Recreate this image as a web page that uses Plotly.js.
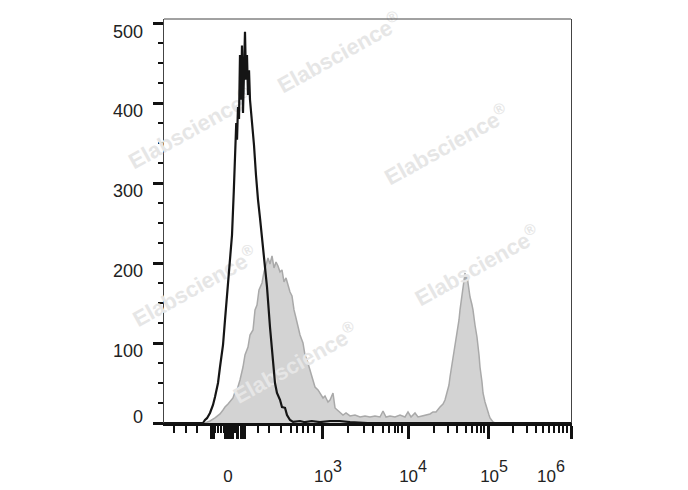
<!DOCTYPE html>
<html><head><meta charset="utf-8">
<script src="https://cdn.plot.ly/plotly-3.0.1.min.js"></script>
<style>html,body{margin:0;padding:0;background:#fff}#chart{width:688px;height:490px}</style>
</head><body><div id="chart"></div>
<script>
// x values are display channels (0-1000) of a biexponential axis; y values are cell counts
const stainedX = [100.7,113.0,125.3,137.6,145.0,149.9,157.3,162.2,169.5,174.4,179.4,186.7,194.1,199.0,206.4,211.3,218.7,223.6,228.5,233.4,240.8,245.7,250.6,255.5,260.4,265.4,270.3,275.2,280.1,285.0,289.9,294.8,299.8,304.7,309.6,314.5,319.4,324.3,329.2,334.2,341.5,346.4,351.4,358.7,366.1,371.0,378.4,383.3,390.7,395.6,402.9,407.9,415.2,420.2,425.1,432.4,439.8,447.2,457.0,469.3,481.6,493.9,506.1,518.4,530.7,538.1,545.5,555.3,567.6,579.9,592.1,599.5,606.9,616.7,624.1,633.9,643.7,653.6,660.9,668.3,678.1,685.5,690.4,695.3,700.2,702.7,707.6,710.1,715.0,719.9,724.8,727.3,732.2,734.7,737.1,739.6,742.1,744.5,747.0,749.4,751.9,756.8,759.2,764.1,769.0,774.0,776.4,781.3,783.8,788.7,793.6,798.5,801.0,808.4,813.3];
const stainedY = [0,2.5,6.3,11.3,16.3,20,23.8,26.3,31.3,38.8,41.3,53.8,70,85,95,110,116.3,141.3,147.5,166.3,175,188.8,197.5,206.3,198.8,208.8,193.8,201.3,196.3,188.8,191.3,176.3,181.3,172.5,163.8,158.8,141.3,131.3,120,110,100,85,78.8,66.3,53.8,45,41.3,37.5,31.3,33.8,26.3,28.8,37.5,18.8,16.3,13.8,10,12.5,8.8,10,7.5,8.8,7.5,8.8,7.5,15,7.5,8.8,7.5,10,7.5,13.8,7.5,12.5,7.5,8.8,10,11.3,13.8,13.8,20,23.8,28.8,37.5,47.5,57.5,72.5,82.5,97.5,112.5,128.8,141.3,160,170,178.8,187.5,178.8,185,175,166.3,157.5,147.5,141.3,122.5,107.5,85,70,51.3,37.5,26.3,16.3,10,6.3,1.3,0];

const controlX = [0,95.8,100.7,105.6,113.0,120.4,125.3,132.7,137.6,145.0,149.9,154.8,159.7,167.1,171.5,174.4,177.5,179.4,181.8,184.3,186.7,189.2,191.6,194.1,196.6,199.0,201.5,203.9,206.4,208.9,211.3,216.2,221.1,226.0,228.5,231.0,235.9,239.5,243.2,248.2,253.1,260.4,265.4,267.8,272.7,277.6,285.0,289.9,297.3,302.2,309.6,317.0,334.0,346.0,363.0,383.0,408.0,432.0,457.0,500.0,1000];
const controlY = [0,0,3.8,6,12.5,22.5,32.5,50,70,97.5,129,160,197.5,235,290,340,375,354,395,380,460,404,472,387.5,466,489,429,460,410,441,404,379,347.5,310,287.5,279,256,237,212.5,191,170,120,91,70,50,37.5,29,20,19,10,3.8,1.3,2.5,1,2.5,1,2.5,2.5,1,0,0];

// axis ticks (display channels) and labels
const decadeTicks = [388.2, 599.5, 798.5, 1000];
const zeroTicksLong = [115.5, 120.4, 152.3, 157.2, 162.2, 167.1, 181.8, 189.2, 196.6];
const zeroTicksShort = [125.3, 132.7, 140.0, 147.4, 172.0, 176.9];
const midTicks = [312.0, 538.1, 742.0, 931.2];
const minorTicks = [24.6,54.1,81.1,231.0,258.0,287.5,326.8,341.5,353.8,368.6,452.1,491.4,513.5,552.8,567.6,575.0,584.8,663.4,697.8,719.9,756.8,769.1,778.9,786.2,857.5,891.9,914.0,946.0,958.2,970.5,980.3,990.2];
const xLabelPos = [157, 403, 612, 811, 951];
const xLabelText = ['<span style="font-size:17px">0</span>',
                    '<span style="font-size:17px">10</span><sup>3</sup>',
                    '<span style="font-size:17px">10</span><sup>4</sup>',
                    '<span style="font-size:17px">10</span><sup>5</sup>',
                    '<span style="font-size:17px">10</span><sup>6</sup>'];
const yMajor = [0, 100, 200, 300, 400, 500];
const yLabelPos = [7.5, 90, 190, 290, 390, 489];
const yLabelText = ['0', '100', '200', '300', '400', '500'];

// watermark centres (channel, count)
const wmX = [432, 66, 695, 76, 770, 323];
const wmY = [462, 367, 347, 170, 196, 74];

const xTickFont = {family: 'Liberation Sans, Arial, sans-serif', size: 23, color: '#222'};
const yTickFont = {family: 'Liberation Sans, Arial, sans-serif', size: 18, color: '#222'};
const X_RANGE = [0, 1000], Y_RANGE = [0, 505];

// geometry of the figure: plot box in pixels
const W = 688, H = 490, PL = 164, PR = 571, PT = 19, PB = 423;
const xPerPx = (X_RANGE[1] - X_RANGE[0]) / (PR - PL);
const yPerPx = (Y_RANGE[1] - Y_RANGE[0]) / (PB - PT);
// full-figure overlay axes (same scale as the plot box) so watermarks are not clipped
const X_FULL = [X_RANGE[0] - PL * xPerPx, X_RANGE[1] + (W - PR) * xPerPx];
const Y_FULL = [Y_RANGE[0] - (H - PB) * yPerPx, Y_RANGE[1] + PT * yPerPx];

const dummy = (xa, ya) => ({type: 'scatter', mode: 'markers', x: [null], y: [null], xaxis: xa, yaxis: ya, hoverinfo: 'skip', showlegend: false});

const traces = [
  {type: 'scatter', mode: 'lines', x: stainedX, y: stainedY, xaxis: 'x', yaxis: 'y',
   fill: 'tozeroy', fillcolor: '#d3d3d3', line: {color: '#a9a9a9', width: 1.5}, hoverinfo: 'skip'},
  dummy('x2', 'y'), dummy('x3', 'y'), dummy('x', 'y2'),
  {type: 'scatter', mode: 'lines', x: controlX, y: controlY, xaxis: 'x4', yaxis: 'y4',
   line: {color: '#151515', width: 2.2}, hoverinfo: 'skip'}
];

const shapes = wmX.map((cx, i) => ({
  type: 'line', xref: 'x4', yref: 'y4', layer: 'below',
  x0: cx - 150, x1: cx + 150, y0: wmY[i] - 41, y1: wmY[i] + 41,
  line: {color: 'rgba(0,0,0,0)', width: 1},
  label: {text: 'Elabscience<sup>®</sup>', textangle: -29, textposition: 'middle',
          xanchor: 'center', yanchor: 'middle',
          font: {family: 'Liberation Sans, Arial, sans-serif', size: 22, color: '#e6e6e6', weight: 'bold'}}
}));
shapes.push({type: 'line', xref: 'x domain', yref: 'y domain', x0: 0, x1: 1, y0: 1, y1: 1,
  line: {color: '#444', width: 1}, layer: 'above'});

const layout = {
  width: W, height: H,
  margin: {l: 0, r: 0, t: 0, b: 0, pad: 0},
  paper_bgcolor: '#fff', plot_bgcolor: 'rgba(0,0,0,0)',
  showlegend: false, hovermode: false,
  xaxis: {domain: [PL / W, PR / W], anchor: 'y', range: X_RANGE, fixedrange: true,
    showline: true, linecolor: '#111', linewidth: 3, showgrid: false, zeroline: false,
    ticks: 'outside', tickmode: 'array', tickvals: decadeTicks.concat(zeroTicksLong),
    ticklen: 13, tickwidth: 3, tickcolor: '#111', showticklabels: false,
    minor: {tickmode: 'array', tickvals: minorTicks, ticks: 'outside', ticklen: 7, tickwidth: 1.3, tickcolor: '#111', showgrid: false}},
  xaxis2: {overlaying: 'x', anchor: 'y', side: 'bottom', range: X_RANGE, fixedrange: true,
    showline: false, showgrid: false, zeroline: false,
    ticks: 'outside', tickmode: 'array', tickvals: midTicks.concat(zeroTicksShort),
    ticklen: 9, tickwidth: 2.5, tickcolor: '#111', showticklabels: false},
  xaxis3: {overlaying: 'x', anchor: 'y', side: 'bottom', range: X_RANGE, fixedrange: true,
    showline: false, showgrid: false, zeroline: false, ticks: '',
    tickmode: 'array', tickvals: xLabelPos, ticktext: xLabelText,
    tickfont: xTickFont, ticklabelstandoff: 35},
  yaxis: {domain: [(H - PB) / H, (H - PT) / H], anchor: 'x', range: Y_RANGE, fixedrange: true,
    showline: true, linecolor: '#444', linewidth: 1, mirror: true,
    showgrid: false, zeroline: false,
    ticks: 'outside', tickmode: 'array', tickvals: yMajor, ticklen: 10, tickwidth: 3, tickcolor: '#111',
    showticklabels: false,
    minor: {dtick: 25, tick0: 0, ticks: 'outside', ticklen: 5, tickwidth: 1.2, tickcolor: '#111', showgrid: false}},
  yaxis2: {overlaying: 'y', anchor: 'x', side: 'left', range: Y_RANGE, fixedrange: true,
    showline: false, showgrid: false, zeroline: false, ticks: '',
    tickmode: 'array', tickvals: yLabelPos, ticktext: yLabelText,
    tickfont: yTickFont, ticklabelstandoff: 20},
  xaxis4: {domain: [0, 1], anchor: 'y4', range: X_FULL, visible: false, fixedrange: true},
  yaxis4: {domain: [0, 1], anchor: 'x4', range: Y_FULL, visible: false, fixedrange: true},
  shapes: shapes
};

Plotly.newPlot('chart', traces, layout, {staticPlot: true, displayModeBar: false});
</script>
</body></html>
